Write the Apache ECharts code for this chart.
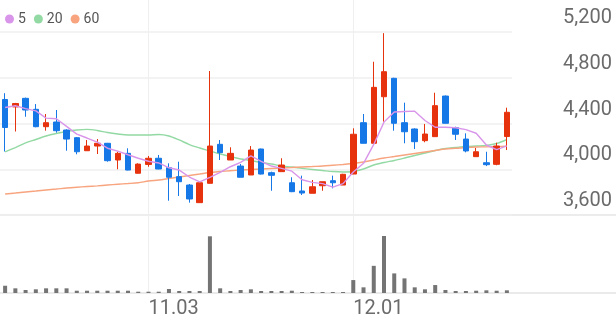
<!DOCTYPE html>
<html><head><meta charset="utf-8">
<script src="https://cdn.jsdelivr.net/npm/echarts@6/dist/echarts.min.js"></script>
<style>html,body{margin:0;padding:0;background:#fff}#c{width:616px;height:321px}</style>
</head><body><div id="c"></div>
<script>
const dates = ['10.14','10.15','10.16','10.17','10.20','10.21','10.22','10.23','10.24','10.27','10.28','10.29','10.30','10.31',
  '11.03','11.04','11.05','11.06','11.07','11.10','11.11','11.12','11.13','11.14','11.17','11.18','11.19','11.20','11.21',
  '11.24','11.25','11.26','11.27','11.28','12.01','12.02','12.03','12.04','12.05','12.08','12.09','12.10','12.11','12.12',
  '12.15','12.16','12.17','12.18','12.19','12.22'];
const opens  = [4610,4545,4620,4524,4372,4413,4343,4276,4162,4203,4227,4081,4139,3965,4042,4096,4014,3935,3862,3708,3877,4218,4081,4028,3950,4177,3970,3979,3882,3810,3790,3856,3900,3862,3958,4407,4227,4634,4795,4407,4352,4250,4285,4640,4363,4264,4110,4057,4043,4286];
const closes = [4365,4575,4518,4372,4407,4337,4264,4153,4203,4227,4075,4139,3993,4045,4096,4002,3930,3891,3740,3882,4203,4145,4139,3930,4168,3958,3947,4037,3804,3792,3847,3891,3882,3956,4306,4227,4716,4853,4402,4328,4241,4308,4556,4402,4306,4160,4153,4040,4203,4498];
const lows   = [4155,4330,4459,4367,4337,4320,4162,4131,4160,4133,4066,4000,3990,3963,4022,4000,3725,3766,3708,3705,3877,4081,4081,3930,3950,3955,3812,3979,3800,3775,3790,3812,3833,3862,3958,4227,4227,4416,4337,4227,4177,4236,4285,4400,4256,4148,4108,4028,4035,4168];
const highs  = [4665,4580,4626,4570,4483,4518,4349,4282,4256,4264,4230,4153,4183,4052,4116,4125,4052,4066,3871,3885,4859,4256,4192,4046,4203,4180,3979,4096,3930,3944,3906,3891,3944,3960,4358,4483,4940,5190,4800,4582,4358,4396,4669,4645,4372,4314,4186,4153,4232,4538];
const ma5  = [4540,4555,4530,4510,4447,4442,4375,4307,4273,4237,4184,4159,4127,4096,4070,4055,4013,3993,3932,3889,3929,3972,4022,4060,4117,4068,4028,4008,3983,3908,3885,3874,3843,3874,3976,4052,4217,4412,4501,4505,4508,4426,4367,4367,4363,4346,4315,4212,4172,4205];
const ma20 = [4151,4190,4230,4260,4291,4313,4330,4343,4349,4339,4321,4308,4299,4299,4299,4304,4291,4256,4216,4186,4160,4133,4111,4090,4077,4059,4046,4028,4020,4008,3998,3989,3980,3976,3980,4002,4037,4059,4077,4098,4120,4142,4164,4181,4190,4199,4203,4208,4225,4260];
const ma60 = [3784,3792,3801,3810,3819,3827,3836,3843,3849,3855,3862,3869,3875,3882,3897,3906,3919,3932,3945,3958,3972,3980,3987,3993,3998,4002,4007,4011,4015,4020,4024,4028,4035,4042,4050,4063,4081,4098,4111,4125,4138,4151,4164,4177,4183,4190,4195,4196,4199,4201];
const volumes = [730,470,300,370,470,470,470,230,230,230,230,230,230,130,130,130,400,200,200,200,5700,470,200,300,370,200,200,200,230,100,100,100,100,100,1300,570,2730,5730,1970,1470,570,370,800,300,200,200,230,270,230,270];
const priceTicks = [3600,4000,4400,4800,5200];
const shownDates = ['11.03','12.01'];
const maNames = ['5','20','60'];
const maColors = ['#d995ea','#93d9a3','#f7a47f'];

const UP = '#e6330e', DOWN = '#1677e6';
const candleData = opens.map((o,i)=>[o, closes[i], lows[i], highs[i]]);
const chart = echarts.init(document.getElementById('c'), null, {renderer:'canvas'});
const labelColor = '#6b6b6b';
const font = 'Roboto, "Noto Sans", sans-serif';

chart.setOption({
  animation:false,
  backgroundColor:'#fff',
  textStyle:{fontFamily:font},
  legend:{
    data:maNames, left:0, top:7, icon:'circle', itemWidth:9, itemHeight:9, itemGap:8,
    textStyle:{fontSize:14, color:'#555', fontFamily:font, padding:[0,0,0,-1]}
  },
  grid:[
    {left:0, right:104, top:32, height:183},
    {left:0, right:104, top:236, height:57}
  ],
  xAxis:[
    {type:'category', data:dates, gridIndex:0, boundaryGap:true,
     axisLine:{show:false}, axisTick:{show:false}, axisLabel:{show:false}, splitLine:{show:false}},
    {type:'category', data:dates, gridIndex:1, boundaryGap:true,
     axisLine:{show:false}, axisTick:{show:false}, splitLine:{show:false},
     axisLabel:{interval:(i,v)=>shownDates.includes(v), align:'left', margin:6, fontSize:20, color:labelColor, fontFamily:font}}
  ],
  yAxis:[
    {type:'value', gridIndex:0, position:'right', min:priceTicks[0], max:priceTicks[priceTicks.length-1], interval:400,
     axisLine:{show:false}, axisTick:{show:false},
     splitLine:{lineStyle:{color:'#efefef', width:1.5}},
     axisLabel:{align:'right', margin:100, verticalAlign:'bottom', lineHeight:20, padding:[0,0,4,0],
       fontSize:20, color:labelColor, fontFamily:font,
       formatter:v=>v.toLocaleString('en-US')}},
    {type:'value', gridIndex:1, min:0, max:v=>v.max, show:false, splitLine:{show:false}}
  ],
  series:[
    {type:'candlestick', name:'price', xAxisIndex:0, yAxisIndex:0, data:candleData, barWidth:6, z:3,
     itemStyle:{color:UP, color0:DOWN, borderColor:UP, borderColor0:DOWN, borderWidth:1}},
    {type:'line', name:maNames[0], data:ma5, xAxisIndex:0, yAxisIndex:0, symbol:'none', smooth:false, z:4,
     itemStyle:{color:maColors[0]}, lineStyle:{color:maColors[0], width:1.4}},
    {type:'line', name:maNames[1], data:ma20, xAxisIndex:0, yAxisIndex:0, symbol:'none', smooth:0.3, z:2,
     itemStyle:{color:maColors[1]}, lineStyle:{color:maColors[1], width:1.4}},
    {type:'line', name:maNames[2], data:ma60, xAxisIndex:0, yAxisIndex:0, symbol:'none', smooth:0.3, z:2,
     itemStyle:{color:maColors[2]}, lineStyle:{color:maColors[2], width:1.4}},
    {type:'bar', name:'volume', data:volumes, xAxisIndex:1, yAxisIndex:1, barWidth:4, itemStyle:{color:'#747474'}}
  ]
});

// reference lines computed from the library's scales
const yBottom = chart.convertToPixel({yAxisIndex:0}, priceTicks[0]);
const yVol = chart.convertToPixel({yAxisIndex:1}, 0);
const W = chart.getWidth();
const g = [
  {type:'line', z:-1, shape:{x1:0, y1:yBottom, x2:W, y2:yBottom}, style:{stroke:'#e6e6e6', lineWidth:1.5}},
  {type:'line', z:-1, shape:{x1:0, y1:yVol, x2:W, y2:yVol}, style:{stroke:'#e3e3e3', lineWidth:1.5}}
];
shownDates.forEach(d=>{
  const x = Math.round(chart.convertToPixel({xAxisIndex:1}, d)) + 0.5;
  g.push({type:'line', z:-1, shape:{x1:x, y1:0, x2:x, y2:yVol}, style:{stroke:'#efefef', lineWidth:1}});
});
chart.setOption({graphic:g});
</script></body></html>
